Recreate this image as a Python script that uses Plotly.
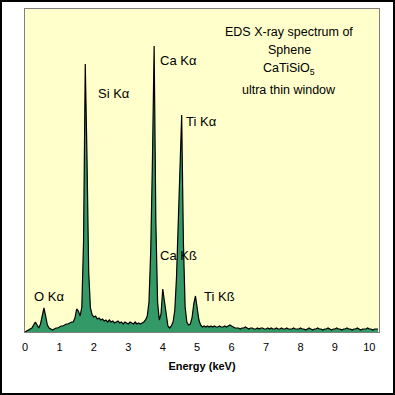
import plotly.graph_objects as go

# Channel energies: start 0 keV, 0.05 keV per channel
E_START = 0.0
E_STEP = 0.05

# Counts per channel (arbitrary units)
counts = [
    0, 1, 2, 3, 4, 7, 10, 7, 4, 8,            # 0.00-0.45
    17, 24, 16, 7, 4, 3, 2, 3, 4, 4,          # 0.50-0.95
    5, 6, 6, 7, 8, 8, 9, 10, 10, 14,          # 1.00-1.45
    23, 21, 16, 25, 90, 268, 175, 60, 24, 17, # 1.50-1.95
    15, 16, 13, 14, 12, 13, 11, 12, 10, 12,   # 2.00-2.45
    10, 11, 9, 10, 11, 9, 10, 8, 10, 9,       # 2.50-2.95
    8, 10, 9, 8, 10, 8, 9, 8, 9, 10,          # 3.00-3.45
    12, 16, 30, 80, 170, 286, 110, 30, 12, 18,# 3.50-3.95
    43, 30, 14, 6, 4, 6, 10, 22, 55, 110,     # 4.00-4.45
    160, 217, 90, 25, 10, 7, 8, 14, 28, 36,   # 4.50-4.95
    24, 12, 7, 5, 6, 5, 6, 5, 6, 5,           # 5.00-5.45
    6, 5, 5, 6, 5, 5, 6, 5, 6, 7,             # 5.50-5.95
    6, 5, 4, 4, 4, 3, 4, 4, 5, 4,             # 6.00-6.45
    3, 4, 4, 3, 3, 4, 3, 4, 4, 3,             # 6.50-6.95
    3, 4, 3, 4, 3, 3, 4, 3, 3, 4,             # 7.00-7.45
    3, 3, 4, 3, 3, 3, 4, 3, 3, 3,             # 7.50-7.95
    4, 3, 3, 2, 3, 4, 3, 2, 3, 3,             # 8.00-8.45
    4, 3, 3, 2, 3, 3, 4, 3, 2, 3,             # 8.50-8.95
    3, 4, 3, 3, 2, 3, 3, 4, 3, 3,             # 9.00-9.45
    2, 3, 3, 4, 3, 2, 3, 3, 3, 4,             # 9.50-9.95
    3, 3, 2, 3, 3, 3,                         # 10.00-10.25
]
energies = [round(E_START + i * E_STEP, 2) for i in range(len(counts))]

tick_values = [0, 1, 2, 3, 4, 5, 6, 7, 8, 9, 10]
tick_labels = ["0", "1", "2", "3", "4", "5", "6", "7", "8", "9", "10"]

peak_labels = ["O Kα", "Si Kα", "Ca Kα", "Ca Kß", "Ti Kα", "Ti Kß"]
peak_label_x = [0.70, 2.59, 4.46, 4.45, 5.12, 5.66]
peak_label_y = [36, 239, 272, 77, 211, 36]

title_lines = ["EDS X-ray spectrum of", "Sphene", "CaTiSiO<sub>5</sub>", "ultra thin window"]
title_x = 7.67
title_y = [300, 282, 263, 242]

FONT = "Arial, Liberation Sans, sans-serif"

fig = go.Figure()
fig.add_trace(go.Scatter(
    x=energies, y=counts, mode="lines", fill="tozeroy",
    fillcolor="#339966", line=dict(color="black", width=1.2),
    hoverinfo="skip", showlegend=False,
))

for t, x, y in zip(peak_labels, peak_label_x, peak_label_y):
    fig.add_annotation(x=x, y=y, text=t, showarrow=False,
                       font=dict(family=FONT, size=13, color="black"))
for t, y in zip(title_lines, title_y):
    fig.add_annotation(x=title_x, y=y, text=t, showarrow=False,
                       font=dict(family=FONT, size=12.5, color="black"))

fig.update_layout(
    width=395, height=395,
    margin=dict(l=25, r=16, t=9, b=63),
    paper_bgcolor="white", plot_bgcolor="#FFFFCC",
    font=dict(family=FONT, color="black"),
    shapes=[dict(type="rect", xref="paper", yref="paper",
                 x0=-24/354, x1=1 + 15/354, y0=-62/323, y1=1 + 8/323,
                 line=dict(color="black", width=2))],
)
fig.update_xaxes(
    range=[0, 10.28], tickvals=tick_values, ticktext=tick_labels,
    showgrid=False, zeroline=False, showline=True, mirror=True,
    linecolor="#808080", linewidth=1,
    ticks="outside", ticklen=5, tickcolor="rgba(0,0,0,0)",
    tickfont=dict(family=FONT, size=11, color="black"),
    title=dict(text="<b>Energy (keV)</b>", font=dict(family=FONT, size=11, color="black"), standoff=10),
)
fig.update_yaxes(
    range=[0, 323], showticklabels=False, showgrid=False, zeroline=False,
    showline=True, mirror=True, linecolor="#808080", linewidth=1, ticks="",
)

fig.write_html("out.html",
               config={"displayModeBar": False},
               post_script="document.body.style.margin='0';document.body.style.padding='0';")
